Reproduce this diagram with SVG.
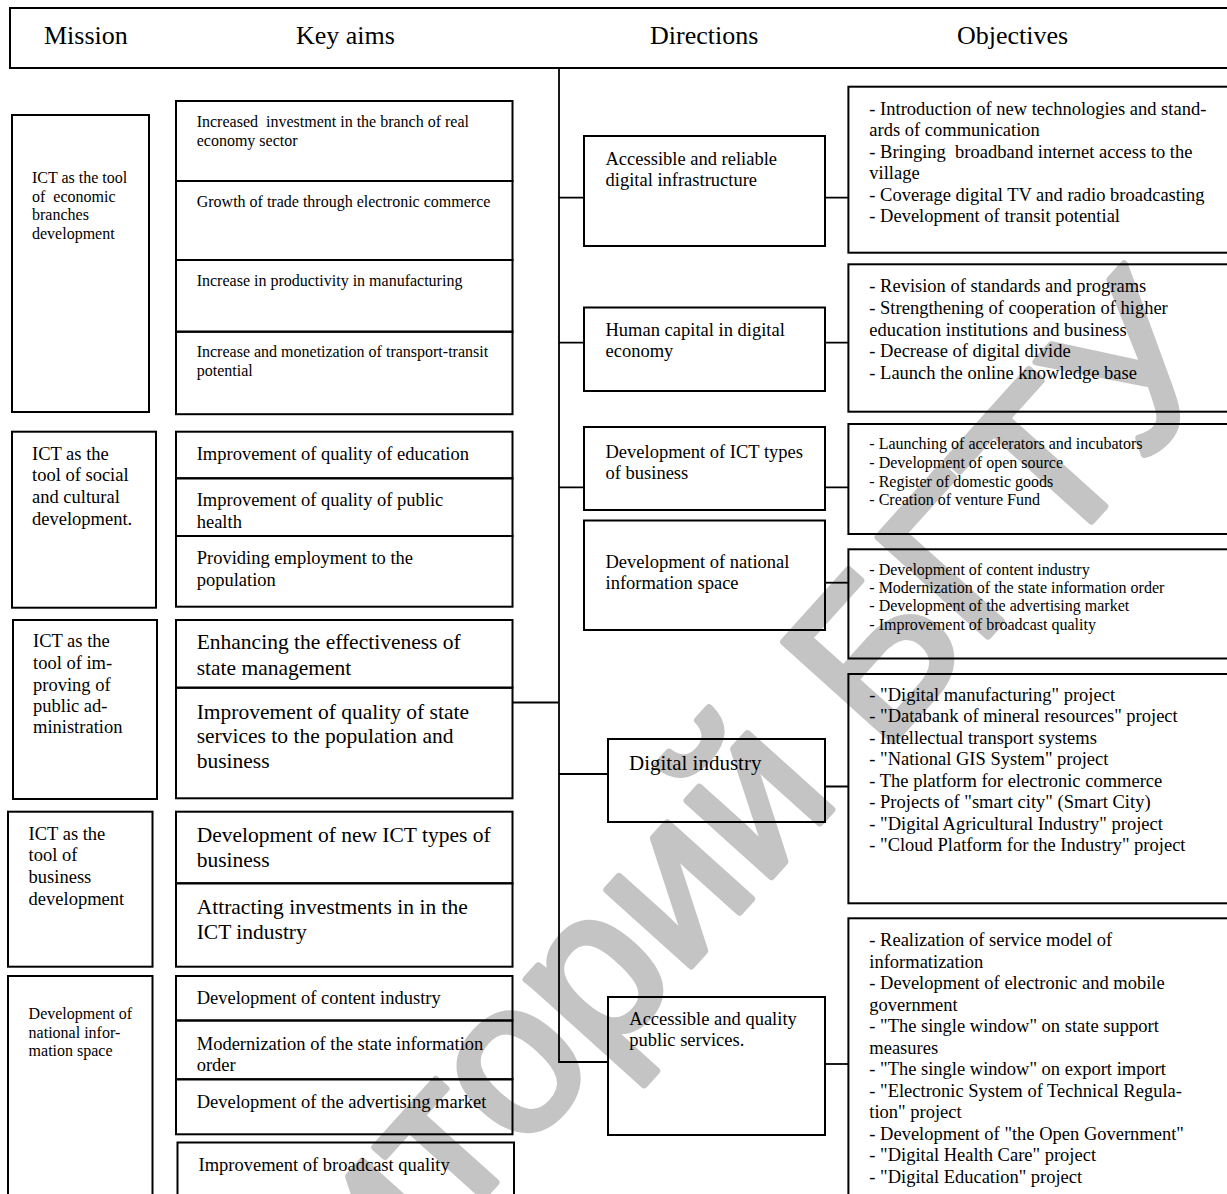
<svg xmlns="http://www.w3.org/2000/svg" width="1227" height="1194" viewBox="0 0 1227 1194">
<style>
.box{fill:none;stroke:#000;stroke-width:2}
.ln{fill:none;stroke:#000;stroke-width:1.8}
.t{font-family:'Liberation Serif','Times New Roman',serif;fill:#000}
.s16{font-size:16px}.s18{font-size:18.5px}.s21{font-size:21.5px}.s26{font-size:26px}
.wm{font-family:'Liberation Sans',Arial,sans-serif;font-size:215px;fill:#c4c4c4;stroke:#c4c4c4;stroke-width:7;stroke-linejoin:round}
</style>
<rect width="1227" height="1194" fill="#fff"/>
<text class="wm" text-anchor="middle" transform="translate(609,1057) rotate(-48)">Репозиторий БГТУ</text>

<g id="header">
<rect class="box" x="10" y="8" width="1230" height="60"/>
<text class="t s26" x="44" y="44">Mission</text>
<text class="t s26" x="296" y="44">Key aims</text>
<text class="t s26" x="650" y="44">Directions</text>
<text class="t s26" x="957" y="44">Objectives</text>
</g>

<g id="connectors">
<path class="ln" d="M559 68V1062H608"/>
<path class="ln" d="M559 197.7H584M825 197.7H848"/>
<path class="ln" d="M559 342.7H584M825 342.7H848"/>
<path class="ln" d="M559 487.3H584M825 487.3H848"/>
<path class="ln" d="M825 582.7H848"/>
<path class="ln" d="M559 774H608M825 786.5H848"/>
<path class="ln" d="M825 1064H848"/>
<path class="ln" d="M512.5 702.5H559"/>
</g>

<g id="mission1"><rect class="box" x="12" y="115" width="137" height="297"/>
<text class="t s16" xml:space="preserve"><tspan x="32" y="182.5">ICT as the tool</tspan><tspan x="32" y="201.5">of  economic</tspan><tspan x="32" y="220">branches</tspan><tspan x="32" y="238.5">development</tspan></text></g>
<g id="mission2"><rect class="box" x="12" y="431.7" width="144" height="176"/>
<text class="t s18"><tspan x="32" y="459.5">ICT as the</tspan><tspan x="32" y="481">tool of social</tspan><tspan x="32" y="502.5">and cultural</tspan><tspan x="32" y="524.5">development.</tspan></text></g>
<g id="mission3"><rect class="box" x="13" y="620" width="144" height="179"/>
<text class="t s18"><tspan x="33" y="647">ICT as the</tspan><tspan x="33" y="669">tool of im-</tspan><tspan x="33" y="690.5">proving of</tspan><tspan x="33" y="712">public ad-</tspan><tspan x="33" y="733">ministration</tspan></text></g>
<g id="mission4"><rect class="box" x="8" y="811.7" width="144.5" height="155"/>
<text class="t s18"><tspan x="28.6" y="839.5">ICT as the</tspan><tspan x="28.6" y="861">tool of</tspan><tspan x="28.6" y="883">business</tspan><tspan x="28.6" y="904.5">development</tspan></text></g>
<g id="mission5"><rect class="box" x="8" y="976" width="144.5" height="230"/>
<text class="t s16"><tspan x="28.6" y="1018.5">Development of</tspan><tspan x="28.6" y="1037.5">national infor-</tspan><tspan x="28.6" y="1056">mation space</tspan></text></g>

<g id="aim1"><rect class="box" x="176" y="101" width="336.5" height="80"/>
<text class="t s16" xml:space="preserve"><tspan x="196.7" y="127">Increased  investment in the branch of real</tspan><tspan x="196.7" y="145.5">economy sector</tspan></text></g>
<g id="aim2"><rect class="box" x="176" y="181" width="336.5" height="79"/>
<text class="t s16" x="196.7" y="207">Growth of trade through electronic commerce</text></g>
<g id="aim3"><rect class="box" x="176" y="260" width="336.5" height="71.7"/>
<text class="t s16" x="196.7" y="285.5">Increase in productivity in manufacturing</text></g>
<g id="aim4"><rect class="box" x="176" y="331.7" width="336.5" height="82.5"/>
<text class="t s16"><tspan x="196.7" y="357">Increase and monetization of transport-transit</tspan><tspan x="196.7" y="375.5">potential</tspan></text></g>

<g id="aim5"><rect class="box" x="176" y="431.7" width="336.5" height="46.6"/>
<text class="t s18" x="196.7" y="459.5">Improvement of quality of education</text></g>
<g id="aim6"><rect class="box" x="176" y="478.3" width="336.5" height="57.7"/>
<text class="t s18"><tspan x="196.7" y="505.5">Improvement of quality of public</tspan><tspan x="196.7" y="528">health</tspan></text></g>
<g id="aim7"><rect class="box" x="176" y="536" width="336.5" height="70.7"/>
<text class="t s18"><tspan x="196.7" y="563.5">Providing employment to the</tspan><tspan x="196.7" y="586">population</tspan></text></g>

<g id="aim8"><rect class="box" x="176" y="620" width="336.5" height="67.7"/>
<text class="t s21"><tspan x="196.7" y="649">Enhancing the effectiveness of</tspan><tspan x="196.7" y="674.5">state management</tspan></text></g>
<g id="aim9"><rect class="box" x="176" y="687.7" width="336.5" height="110.6"/>
<text class="t s21"><tspan x="196.7" y="718.5">Improvement of quality of state</tspan><tspan x="196.7" y="743">services to the population and</tspan><tspan x="196.7" y="767.5">business</tspan></text></g>

<g id="aim10"><rect class="box" x="176" y="811.7" width="336.5" height="71.6"/>
<text class="t s21"><tspan x="196.7" y="842">Development of new ICT types of</tspan><tspan x="196.7" y="867">business</tspan></text></g>
<g id="aim11"><rect class="box" x="176" y="883.3" width="336.5" height="83.4"/>
<text class="t s21"><tspan x="196.7" y="914">Attracting investments in in the</tspan><tspan x="196.7" y="939">ICT industry</tspan></text></g>

<g id="aim12"><rect class="box" x="176" y="976" width="336.5" height="44.5"/>
<text class="t s18" x="196.7" y="1003.5">Development of content industry</text></g>
<g id="aim13"><rect class="box" x="176" y="1020.5" width="336.5" height="58.8"/>
<text class="t s18"><tspan x="196.7" y="1049.5">Modernization of the state information</tspan><tspan x="196.7" y="1071">order</tspan></text></g>
<g id="aim14"><rect class="box" x="176" y="1079.3" width="336.5" height="55"/>
<text class="t s18" x="196.7" y="1108">Development of the advertising market</text></g>
<g id="aim15"><rect class="box" x="177.5" y="1142.5" width="336.5" height="70"/>
<text class="t s18" x="198.5" y="1171">Improvement of broadcast quality</text></g>

<g id="dir1"><rect class="box" x="584" y="136" width="241" height="110"/>
<text class="t s18"><tspan x="605.5" y="164.5">Accessible and reliable</tspan><tspan x="605.5" y="185.5">digital infrastructure</tspan></text></g>
<g id="dir2"><rect class="box" x="584" y="307.5" width="241" height="83.5"/>
<text class="t s18"><tspan x="605.5" y="335.5">Human capital in digital</tspan><tspan x="605.5" y="357">economy</tspan></text></g>
<g id="dir3"><rect class="box" x="584" y="427" width="241" height="83"/>
<text class="t s18"><tspan x="605.5" y="458">Development of ICT types</tspan><tspan x="605.5" y="479">of business</tspan></text></g>
<g id="dir4"><rect class="box" x="584" y="520.5" width="241" height="109.5"/>
<text class="t s18"><tspan x="605.5" y="568">Development of national</tspan><tspan x="605.5" y="589">information space</tspan></text></g>
<g id="dir5"><rect class="box" x="608" y="739" width="217" height="83"/>
<text class="t" style="font-size:21px" x="629" y="770">Digital industry</text></g>
<g id="dir6"><rect class="box" x="608" y="997" width="217" height="138"/>
<text class="t s18"><tspan x="629.3" y="1024.5">Accessible and quality</tspan><tspan x="629.3" y="1046">public services.</tspan></text></g>

<g id="obj1"><rect class="box" x="848.4" y="86.7" width="400" height="166"/>
<text class="t s18" xml:space="preserve"><tspan x="869.3" y="114.5">- Introduction of new technologies and stand-</tspan><tspan x="869.3" y="136">ards of communication</tspan><tspan x="869.3" y="157.5">- Bringing  broadband internet access to the</tspan><tspan x="869.3" y="179">village</tspan><tspan x="869.3" y="200.5">- Coverage digital TV and radio broadcasting</tspan><tspan x="869.3" y="222">- Development of transit potential</tspan></text></g>
<g id="obj2"><rect class="box" x="848.4" y="264.3" width="400" height="147.4"/>
<text class="t s18"><tspan x="869.3" y="292">- Revision of standards and programs</tspan><tspan x="869.3" y="314">- Strengthening of cooperation of higher</tspan><tspan x="869.3" y="335.5">education institutions and business</tspan><tspan x="869.3" y="357">- Decrease of digital divide</tspan><tspan x="869.3" y="379">- Launch the online knowledge base</tspan></text></g>
<g id="obj3"><rect class="box" x="848.4" y="424" width="400" height="110"/>
<text class="t s16"><tspan x="869.3" y="449">- Launching of accelerators and incubators</tspan><tspan x="869.3" y="468">- Development of open source</tspan><tspan x="869.3" y="486.5">- Register of domestic goods</tspan><tspan x="869.3" y="504.5">- Creation of venture Fund</tspan></text></g>
<g id="obj4"><rect class="box" x="848.4" y="549.3" width="400" height="109.2"/>
<text class="t s16"><tspan x="869.3" y="575">- Development of content industry</tspan><tspan x="869.3" y="593">- Modernization of the state information order</tspan><tspan x="869.3" y="611">- Development of the advertising market</tspan><tspan x="869.3" y="630">- Improvement of broadcast quality</tspan></text></g>
<g id="obj5"><rect class="box" x="848.4" y="674" width="400" height="229.3"/>
<text class="t s18"><tspan x="869.3" y="700.5">- "Digital manufacturing" project</tspan><tspan x="869.3" y="722">- "Databank of mineral resources" project</tspan><tspan x="869.3" y="743.5">- Intellectual transport systems</tspan><tspan x="869.3" y="765">- "National GIS System" project</tspan><tspan x="869.3" y="786.5">- The platform for electronic commerce</tspan><tspan x="869.3" y="808">- Projects of "smart city" (Smart City)</tspan><tspan x="869.3" y="829.5">- "Digital Agricultural Industry" project</tspan><tspan x="869.3" y="851">- "Cloud Platform for the Industry" project</tspan></text></g>
<g id="obj6"><rect class="box" x="848.4" y="918.3" width="400" height="300"/>
<text class="t s18"><tspan x="869.3" y="946">- Realization of service model of</tspan><tspan x="869.3" y="967.5">informatization</tspan><tspan x="869.3" y="989">- Development of electronic and mobile</tspan><tspan x="869.3" y="1010.5">government</tspan><tspan x="869.3" y="1032">- "The single window" on state support</tspan><tspan x="869.3" y="1053.5">measures</tspan><tspan x="869.3" y="1075">- "The single window" on export import</tspan><tspan x="869.3" y="1096.5">- "Electronic System of Technical Regula-</tspan><tspan x="869.3" y="1118">tion" project</tspan><tspan x="869.3" y="1139.5">- Development of "the Open Government"</tspan><tspan x="869.3" y="1161">- "Digital Health Care" project</tspan><tspan x="869.3" y="1182.5">- "Digital Education" project</tspan></text></g>
</svg>
